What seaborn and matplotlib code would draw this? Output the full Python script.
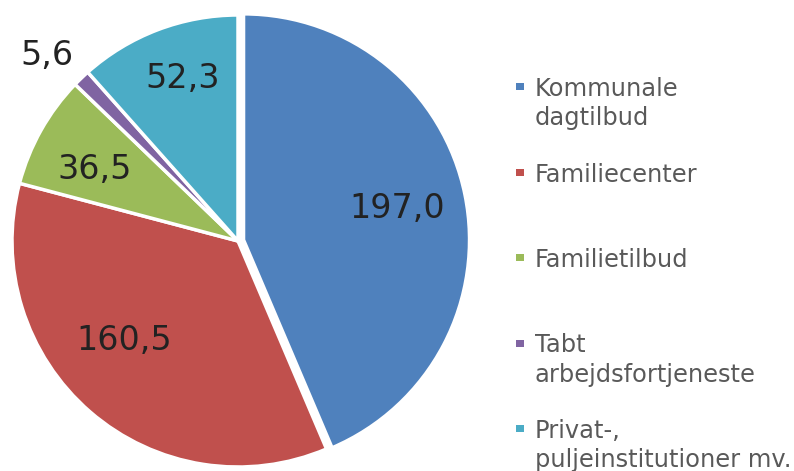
import numpy as np
import matplotlib
matplotlib.use("Agg")
import matplotlib.pyplot as plt
import seaborn as sns
from matplotlib.patches import Rectangle

categories = ["Kommunale\ndagtilbud", "Familiecenter", "Familietilbud",
              "Tabt\narbejdsfortjeneste", "Privat-,\npuljeinstitutioner mv."]
values = [197.0, 160.5, 36.5, 5.6, 52.3]
value_labels = ["197,0", "160,5", "36,5", "5,6", "52,3"]
colors = ["#4F81BD", "#C0504D", "#9BBB59", "#8064A2", "#4BACC6"]

sns.set_theme(style="white")
plt.rcParams["font.family"] = ["DejaVu Sans"]

fig = plt.figure(figsize=(7.94, 4.71), dpi=100)
W, H = 794, 471

# pie centre (238, 241) px from top-left, radius 226 px
cx, cy, r = 238, 241, 226
lim = 1.04
size = 2 * lim * r
ax = fig.add_axes([(cx - size / 2) / W, (H - cy - size / 2) / H, size / W, size / H])

wedges, _ = ax.pie(values, colors=colors, startangle=90, counterclock=False,
                   explode=[0.025, 0, 0, 0, 0],
                   wedgeprops=dict(edgecolor="white", linewidth=2.5))
ax.set_xlim(-lim, lim)
ax.set_ylim(-lim, lim)
ax.set_aspect("equal")
ax.axis("off")

# value labels inside the slices (5,6 sits outside)
dist = [0.72, 0.67, 0.71, 1.18, 0.76]
nudge = [0, -8, 3, 2, -2]
for w, txt, d, n in zip(wedges, value_labels, dist, nudge):
    ang = np.deg2rad((w.theta1 + w.theta2) / 2 + n)
    ax.text(d * np.cos(ang), d * np.sin(ang), txt, ha="center", va="center",
            fontsize=24, color="#222222")

# legend drawn at the right, squares level with the first text line
y0, step, line_h = 96, 85.5, 29.5
for i, (lab, col) in enumerate(zip(categories, colors)):
    base = y0 + i * step
    fig.add_artist(Rectangle((516 / W, 1 - (base - 6) / H), 8 / W, 7 / H,
                             transform=fig.transFigure, color=col, lw=0))
    for j, line in enumerate(lab.split("\n")):
        fig.text(535 / W, 1 - (base + j * line_h) / H, line, fontsize=17.4,
                 color="#595959", ha="left", va="baseline")

fig.savefig("out.png", dpi=100)
